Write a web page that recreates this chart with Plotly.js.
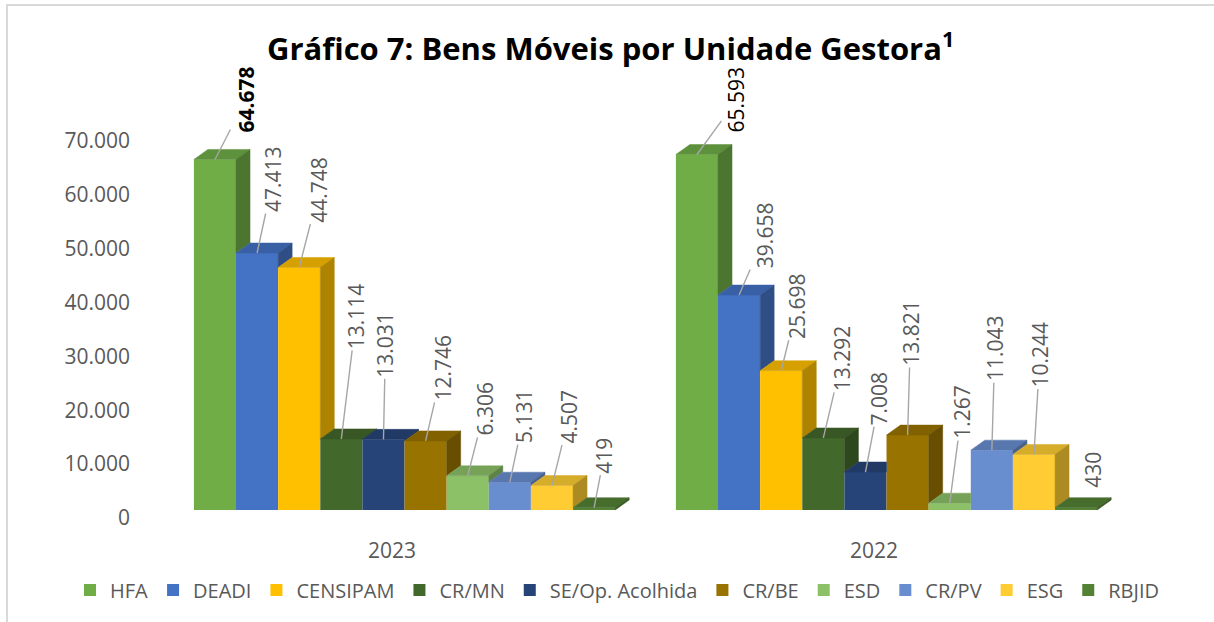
<!DOCTYPE html>
<html>
<head>
<meta charset="utf-8">
<script src="https://cdn.plot.ly/plotly-3.0.1.min.js"></script>
<style>
  html, body { margin: 0; padding: 0; background: #ffffff; }
  #wrap { position: relative; width: 1214px; height: 622px; overflow: hidden; }
  #chart { position: absolute; left: 0; top: 0; width: 1214px; height: 622px; }
  #frame { position: absolute; left: 6px; top: 4px; width: 1400px; height: 800px;
           border-left: 2px solid #d9d9d9; border-top: 2px solid #d9d9d9; pointer-events: none; }
</style>
</head>
<body>
<div id="wrap">
  <div id="chart"></div>
  <div id="frame"></div>
</div>
<script>
// ---------------- data ----------------
const years = ['2023', '2022'];
const series = ['HFA', 'DEADI', 'CENSIPAM', 'CR/MN', 'SE/Op. Acolhida', 'CR/BE', 'ESD', 'CR/PV', 'ESG', 'RBJID'];
const values2023 = [64678, 47413, 44748, 13114, 13031, 12746, 6306, 5131, 4507, 419];
const values2022 = [65593, 39658, 25698, 13292, 7008, 13821, 1267, 11043, 10244, 430];
const yTickValues = [0, 10000, 20000, 30000, 40000, 50000, 60000, 70000];
const yTickLabels = ['0', '10.000', '20.000', '30.000', '40.000', '50.000', '60.000', '70.000'];

// ---------------- styles ----------------
const seriesColors = ['#70AD47', '#4472C4', '#FFC000', '#43682B', '#264478', '#997300',
                      '#8CC168', '#698ED0', '#FFCD33', '#548235'];
// data-label offsets from bar top (px) : [dx, dy, showLeader]
const labelOffsets2023 = [[31, -60], [16, -74], [20, -78], [15, -123], [2, -95], [17, -73],
                          [17, -67], [14, -66], [17, -69], [10, -52]];
const labelOffsets2022 = [[40, -55], [26, -60], [16, -65], [19, -80], [14, -74], [3, -102],
                          [12, -91], [3, -102], [6, -100], [17, -38, false]];

const W = 1214, H = 622;
const M = { l: 20, r: 20, t: 100, b: 92 };
const plotW = W - M.l - M.r, plotH = H - M.t - M.b;
const PX_PER_X = 482;          // px per category step
const CAT0_PX = 392;           // pixel of first category tick
const X_RANGE = [-(CAT0_PX - M.l) / PX_PER_X, (W - M.r - CAT0_PX) / PX_PER_X];
const Y_AXIS_PX = 140;         // pixel position of (invisible) value axis line
// bar (front plane) scale
const BAR_ZERO_PX = 510, BAR_PX_PER_VAL = 5.42 / 1000;
// back-wall (tick) scale, as drawn by the 3D perspective
const TICK_ZERO_PX = 518, TICK_PX_PER_VAL = 5.39 / 1000;
const yRange = [-(M.t + plotH - BAR_ZERO_PX) / BAR_PX_PER_VAL, (BAR_ZERO_PX - M.t) / BAR_PX_PER_VAL];
const tickPositions = yTickValues.map(v => (BAR_ZERO_PX - TICK_ZERO_PX + v * TICK_PX_PER_VAL) / BAR_PX_PER_VAL);

const BAR_W = 0.0874;          // bar width (x units)
const GROUP_SHIFT = 0.026;     // group offset for perspective
const DEPTH_X = 14 / PX_PER_X; // 3D depth in x units
const DEPTH_Y = 10 / BAR_PX_PER_VAL; // 3D depth in y units
const FONT = 'Open Sans, Noto Sans, sans-serif';
const GREY = '#595959';

function shade(hex, f) {
  const n = parseInt(hex.slice(1), 16);
  const r = Math.round(((n >> 16) & 255) * f), g = Math.round(((n >> 8) & 255) * f), b = Math.round((n & 255) * f);
  return 'rgb(' + r + ',' + g + ',' + b + ')';
}
function fmt(v) { return String(v).replace(/\B(?=(\d{3})+(?!\d))/g, '.'); }

const valuesByYear = [values2023, values2022];
const offsetsByYear = [labelOffsets2023, labelOffsets2022];
const n = series.length;
function barCenter(g, i) { return g + GROUP_SHIFT + (i - (n - 1) / 2) * BAR_W; }

const traces = [];
// front faces: bar traces
series.forEach((name, i) => {
  traces.push({
    type: 'bar', name: name,
    x: years.map((y, g) => barCenter(g, i)),
    y: valuesByYear.map(vals => vals[i]),
    width: BAR_W,
    marker: { color: seriesColors[i], line: { width: 0 } },
    hoverinfo: 'name+y'
  });
});
// top & right faces (visible parts)
years.forEach((yr, g) => {
  const vals = valuesByYear[g];
  vals.forEach((v, i) => {
    const c = barCenter(g, i), xl = c - BAR_W / 2, xr = c + BAR_W / 2;
    const vn = i < n - 1 ? vals[i + 1] : 0;
    let tx;
    if (i < n - 1 && vn > v) {
      tx = [xl, xr, xr, xl + DEPTH_X, xl];
    } else {
      tx = [xl, xr, xr + DEPTH_X, xl + DEPTH_X, xl];
    }
    const ty = [v, v, v + DEPTH_Y, v + DEPTH_Y, v];
    traces.push({
      type: 'scatter', mode: 'lines', x: tx, y: ty, fill: 'toself',
      fillcolor: shade(seriesColors[i], 0.84), line: { width: 0.5, color: shade(seriesColors[i], 0.84) },
      showlegend: false, hoverinfo: 'skip'
    });
    if (vn < v) {
      traces.push({
        type: 'scatter', mode: 'lines',
        x: [xr, xr, xr + DEPTH_X, xr + DEPTH_X, xr],
        y: [vn, v, v + DEPTH_Y, vn + DEPTH_Y, vn],
        fill: 'toself',
        fillcolor: shade(seriesColors[i], 0.68), line: { width: 0.5, color: shade(seriesColors[i], 0.68) },
        showlegend: false, hoverinfo: 'skip'
      });
    }
  });
});

// data labels
const annotations = [];
years.forEach((yr, g) => {
  valuesByYear[g].forEach((v, i) => {
    const off = offsetsByYear[g][i];
    const emphasis = (i === 0);
    const bold = emphasis && g === 0;
    annotations.push({
      x: barCenter(g, i), y: v, xref: 'x', yref: 'y',
      text: fmt(v), textangle: -90,
      showarrow: true, arrowhead: 0, arrowwidth: 1.4,
      arrowcolor: off[2] === false ? 'rgba(0,0,0,0)' : '#A6A6A6',
      ax: off[0], ay: off[1], standoff: 0, startstandoff: 0,
      font: { family: FONT, size: 21, color: emphasis ? '#000000' : GREY, weight: bold ? 'bold' : 'normal' }
    });
  });
});

const layout = {
  width: W, height: H,
  margin: M,
  paper_bgcolor: '#ffffff', plot_bgcolor: '#ffffff',
  font: { family: FONT, color: GREY },
  title: {
    text: 'Gráfico 7: Bens Móveis por Unidade Gestora<sup>1</sup>',
    font: { family: FONT, size: 31, color: '#000000', weight: 'bold' },
    xref: 'container', x: 0.503, xanchor: 'center',
    yref: 'container', y: 1 - 49 / H, yanchor: 'middle'
  },
  barmode: 'overlay',
  showlegend: true,
  legend: {
    orientation: 'h', x: (617 - M.l) / plotW, xanchor: 'center', y: (M.t + plotH - 590) / plotH, yanchor: 'middle',
    font: { family: FONT, size: 20, color: GREY }, itemwidth: 30, traceorder: 'normal'
  },
  xaxis: {
    range: X_RANGE, tickvals: [0, 1], ticktext: years,
    showgrid: false, zeroline: false, showline: false, ticks: '',
    ticklabelstandoff: 6,
    tickfont: { family: FONT, size: 21, color: GREY }, fixedrange: true
  },
  yaxis: {
    range: yRange, anchor: 'free', position: (Y_AXIS_PX - M.l) / plotW,
    tickvals: tickPositions, ticktext: yTickLabels,
    showgrid: false, zeroline: false, showline: false, ticks: '',
    ticklabelstandoff: 10,
    tickfont: { family: FONT, size: 21, color: GREY }, fixedrange: true
  },
  annotations: annotations
};

Plotly.newPlot('chart', traces, layout, { staticPlot: true, displayModeBar: false });
</script>
</body>
</html>
